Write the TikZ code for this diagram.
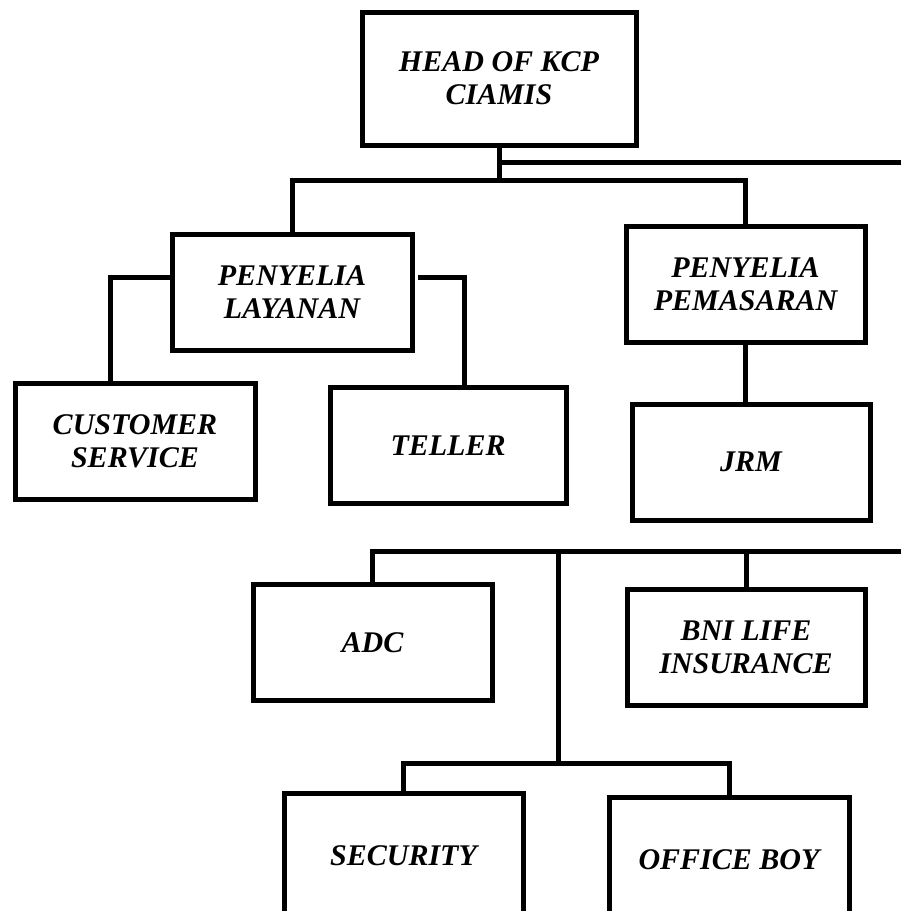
\documentclass[tikz,border=0pt]{standalone}
\usepackage{fontspec}
\usepackage{tikz}
\usetikzlibrary{positioning}
\newfontfamily\orgfont{Liberation Serif}
\tikzset{
  unit/.style = {draw = black, line width = 5pt, rectangle, outer sep = 0pt,
    minimum width = 240pt, minimum height = 116pt, align = center,
    font = \orgfont\bfseries\itshape\fontsize{30}{33}\selectfont},
  link/.style = {line width = 5pt}
}

\begin{document}
\begin{tikzpicture}[x = 1pt, y = -1pt]
        \useasboundingbox (0,0) rectangle (901,911);
        \clip (0,0) rectangle (901,911);
        % boxes
        \node[unit, minimum width = 274pt, minimum height = 133pt] (head) at (499,78.5) {HEAD OF KCP\\CIAMIS};
        \node[unit] (layanan) at (292,292) {PENYELIA\\LAYANAN};
        \node[unit, minimum width = 239pt] (pemasaran) at (745.5,284.5) {PENYELIA\\PEMASARAN};
        \node[unit] (cs) at (135,441.5) {CUSTOMER\\SERVICE};
        \node[unit, minimum width = 236pt] (teller) at (448,445.5) {TELLER};
        \node[unit, minimum width = 238pt] (jrm) at (751,462) {JRM};
        \node[unit, minimum width = 239pt] (adc) at (372.5,642.5) {ADC};
        \node[unit, minimum width = 238pt] (bni) at (746,647.5) {BNI LIFE\\INSURANCE};
        % the bottom row runs past the lower edge
        \node[unit, minimum width = 239pt, minimum height = 126pt] (security) at (403.5,856) {SECURITY};
        \node[unit, minimum height = 126pt] (officeboy) at (729,860) {OFFICE BOY};
        % connectors
        \coordinate (split) at (499,180);
        \coordinate (eastA) at (905,162);
        \coordinate (eastB) at (905,551);
        \coordinate (trunk) at (558,551);
        \coordinate (fork) at (558,763);
        \draw[link] (head.south) -- (split);
        \draw[link] (head.south |- eastA) -- (eastA);
        \draw[link] (layanan.north) |- (split) -| (pemasaran.north);
        \draw[link] ([yshift=15pt]layanan.west) -| ([xshift=-25pt]cs.north);
        \draw[link] ([xshift=6pt,yshift=15pt]layanan.east) -| ([xshift=16pt]teller.north);
        \draw[link] (pemasaran.south) -- (pemasaran.south |- jrm.north);
        \draw[link] (adc.north) |- (eastB);
        \draw[link] (bni.north) -- (bni.north |- eastB);
        \draw[link] (trunk) -- (fork);
        \draw[link] (security.north) |- (fork) -| (officeboy.north);
\end{tikzpicture}
\end{document}
